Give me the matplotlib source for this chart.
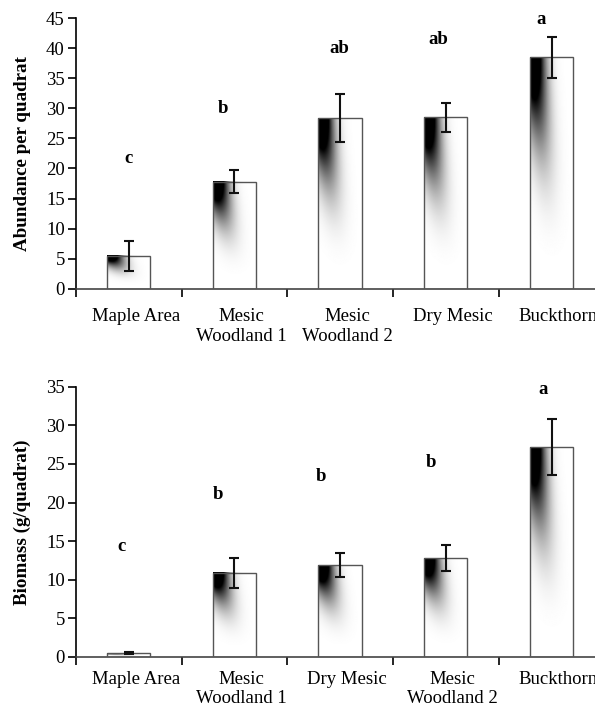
"""
abundance and biomass per quadrat across five sites,
bars shaded with a corner gradient like the original figure
"""
import numpy as np
import matplotlib
matplotlib.use('Agg')
import matplotlib.pyplot as plt

# top panel: abundance
sites_top = ['Maple Area', 'Mesic\nWoodland 1', 'Mesic\nWoodland 2', 'Dry Mesic', 'Buckthorn']
abund = [5.5, 17.8, 28.4, 28.5, 38.5]
abund_err = [2.5, 1.9, 4.0, 2.4, 3.4]
abund_letters = ['c', 'b', 'ab', 'ab', 'a']
abund_letter_y = [21.6, 30.0, 40.0, 41.4, 44.8]

# bottom panel: biomass
sites_bot = ['Maple Area', 'Mesic\nWoodland 1', 'Dry Mesic', 'Mesic\nWoodland 2', 'Buckthorn']
biomass = [0.45, 10.9, 11.9, 12.8, 27.2]
biomass_err = [0.1, 1.95, 1.6, 1.65, 3.6]
biomass_letters = ['c', 'b', 'b', 'b', 'a']
biomass_letter_y = [14.3, 21.1, 23.4, 25.2, 34.7]

# small horizontal nudges of the letters (category units), as in the figure
top_letter_dx = [0.0, -0.11, -0.01, -0.07, -0.10]
bot_letter_dx = [-0.07, -0.16, -0.18, -0.14, -0.08]

plt.rcParams['font.family'] = ['Liberation Serif', 'DejaVu Serif']


def shade():
    # darkness: black at the top-left corner, a grey streak running down-right
    u = np.linspace(0, 1, 60)
    v = np.linspace(0, 1, 200)
    U, V = np.meshgrid(u, v)
    s = U - 0.6 * V
    d = 1.9 * np.exp(-(s / 0.3) ** 2) * (1 - V) ** 3.2
    return np.clip(d, 0, 1)


def panel(ax, names, vals, errs, letters, letter_y, dx, ymax, ylabel, pad):
    x = np.arange(len(names))
    bars = ax.bar(x, vals, width=0.41, facecolor='none', edgecolor='#555555',
                  linewidth=1.0, zorder=3)
    img = shade()
    for b in bars:
        ax.imshow(img, cmap='gray_r', vmin=0, vmax=1, aspect='auto',
                  interpolation='bilinear', origin='upper', zorder=2,
                  extent=(b.get_x(), b.get_x() + b.get_width(), 0, b.get_height()))
    ax.errorbar(x, vals, yerr=errs, fmt='none', ecolor='#111111', elinewidth=1.5,
                capsize=3.3, capthick=1.5, zorder=4)
    for i, (t, y) in enumerate(zip(letters, letter_y)):
        ax.text(x[i] + dx[i], y, t, ha='center', va='center', fontsize=13.5,
                fontweight='bold')
    ax.set_xlim(-0.5, len(names) - 0.5)
    ax.set_ylim(0, ymax)
    ax.set_yticks(np.arange(0, ymax + 1, 5))
    # labels sit a little right of the bar centres in the original
    ax.set_xticks(x + 0.065)
    ax.set_xticklabels(names, fontsize=13.5, linespacing=1.2)
    ax.tick_params(axis='x', length=0, pad=pad)
    ax.set_xticks(np.arange(-0.5, len(names), 1.0), minor=True)
    ax.tick_params(axis='x', which='minor', length=6, width=1.2, direction='out')
    ax.tick_params(axis='y', length=6, width=1.2, labelsize=13.5, pad=2)
    ax.spines['top'].set_visible(False)
    ax.spines['right'].set_visible(False)
    ax.spines['left'].set_linewidth(1.2)
    ax.spines['bottom'].set_linewidth(1.2)
    ax.spines['bottom'].set_color('#444444')
    ax.set_ylabel(ylabel, fontsize=13.7, fontweight='bold', labelpad=11)


fig = plt.figure(figsize=(5.95, 7.1), dpi=100)
ax1 = fig.add_axes([0.1277, 0.5934, 0.888, 0.381])
ax2 = fig.add_axes([0.1277, 0.0751, 0.888, 0.380])

panel(ax1, sites_top, abund, abund_err, abund_letters, abund_letter_y,
      top_letter_dx, 45, 'Abundance per quadrat', 14)
panel(ax2, sites_bot, biomass, biomass_err, biomass_letters, biomass_letter_y,
      bot_letter_dx, 35, 'Biomass (g/quadrat)', 10)

plt.savefig('out.png', dpi=100)
